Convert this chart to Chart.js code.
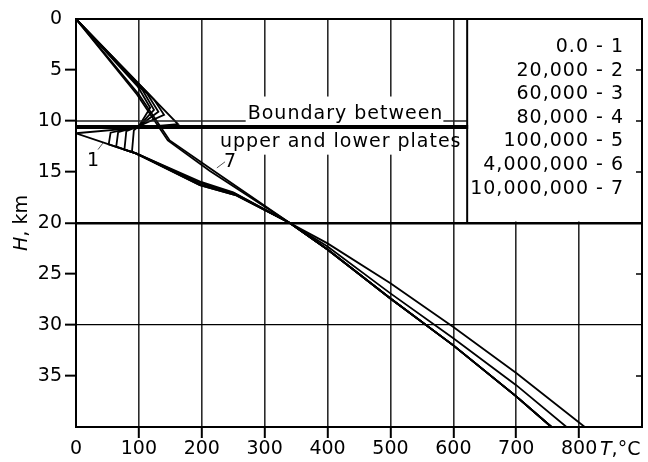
<!DOCTYPE html>
<html>
<head>
<meta charset="utf-8">
<script src="https://cdn.jsdelivr.net/npm/chart.js@4/dist/chart.umd.min.js"></script>
<style>
html,body{margin:0;padding:0;background:#fff;}
#wrap{width:648px;height:462px;}
</style>
</head>
<body>
<div id="wrap"><canvas id="myChart" width="648" height="462"></canvas></div>
<script>
// legend: time (years) - curve number
var legendLabels = ['0.0 - 1','20,000 - 2','60,000 - 3','80,000 - 4','100,000 - 5','4,000,000 - 6','10,000,000 - 7'];
var xTickValues = [0,100,200,300,400,500,600,700,800];
var yTickValues = [0,5,10,15,20,25,30,35];

// T, degC  /  H, km  for each curve
var t1 = [0,162,0,96,197,255,340,400,500,600,700,756];
var h1 = [0,10.3,11.2,13.2,16.3,17.3,20,22.6,27.4,32,37,40];
var t2 = [0,124,140,100,55,52,96,197,255,340,400,500,600,700,756];
var h2 = [0,7.9,9.4,10.5,11.15,12.3,13.2,16.3,17.3,20,22.6,27.4,32,37,40];
var t3 = [0,114,131,100,67,64,96,198,254,340,400,500,600,700,756];
var h3 = [0,7.4,9.1,10.5,11.1,12.5,13.2,16.2,17.2,20,22.6,27.4,32,37,40];
var t4 = [0,106,124,100,80,77,97,199,252,340,400,500,600,700,756];
var h4 = [0,7.0,8.9,10.5,11.0,12.8,13.2,16.1,17.1,20,22.6,27.4,32,37,40];
var t5 = [0,98,118,100,92,89,98,200,250,340,400,500,600,700,756];
var h5 = [0,6.6,8.7,10.5,10.9,13.0,13.25,16.0,17.0,20,22.6,27.4,32,37,40];
var t6 = [0,97,146,213,340,400,500,600,700,780];
var h6 = [0,7.4,11.9,14.9,20,22.3,26.9,31.3,35.9,40];
var t7 = [0,100,149,217,340,400,500,600,700,809];
var h7 = [0,7.4,11.9,14.8,20,22,25.9,30.2,34.7,40];

var boundaryH = 10.6;   // contact of upper and lower plates
var legendBoxT = 622;   // left edge of the legend box

var allT = [t1,t2,t3,t4,t5,t6,t7];
var allH = [h1,h2,h3,h4,h5,h6,h7];

var FONT = '"DejaVu Sans", sans-serif';

function toPoints(ts, hs){
  var pts = [];
  for (var i=0;i<ts.length;i++){
    pts.push({x:ts[i], y:hs[i]});
  }
  return pts;
}

var datasets = [];
for (var i=0;i<allT.length;i++){
  datasets.push({
    label: legendLabels[i],
    data: toPoints(allT[i], allH[i]),
    showLine: true,
    borderColor: '#000',
    borderWidth: 1.8,
    pointRadius: 0,
    fill: false
  });
}

// widths of an italic part and a normal part
function mixedText(ctx, italicPart, rest){
  ctx.font = 'italic 19px ' + FONT;
  var w1 = ctx.measureText(italicPart).width;
  ctx.font = '19px ' + FONT;
  var w2 = ctx.measureText(rest).width;
  return [w1, w2];
}

var extras = {
  id: 'extras',
  beforeDraw: function(chart){
    var ctx = chart.ctx;
    ctx.save();
    ctx.fillStyle = '#fff';
    ctx.fillRect(0,0,chart.width,chart.height);
    ctx.restore();
  },
  beforeDatasetsDraw: function(chart){
    var ctx = chart.ctx, x = chart.scales.x, y = chart.scales.y, a = chart.chartArea;
    ctx.save();
    ctx.fillStyle = '#fff';
    // gap in the grid behind the boundary note
    var x0 = x.getPixelForValue(226), x1 = x.getPixelForValue(595);
    var y0 = y.getPixelForValue(7.6), y1 = y.getPixelForValue(13.3);
    ctx.fillRect(x0, y0, x1-x0, y1-y0);
    // legend box
    var bx = x.getPixelForValue(legendBoxT);
    ctx.fillRect(bx, a.top+1, a.right-bx, y.getPixelForValue(20)-1.5-a.top-1);
    ctx.restore();
  },
  afterDatasetsDraw: function(chart){
    var ctx = chart.ctx, x = chart.scales.x, y = chart.scales.y, a = chart.chartArea;
    var bx = x.getPixelForValue(legendBoxT);
    ctx.save();
    ctx.fillStyle = '#000';
    ctx.strokeStyle = '#000';
    ctx.font = '19px ' + FONT;
    ctx.letterSpacing = '1px';
    ctx.textBaseline = 'middle';
    ctx.textAlign = 'left';

    var txt1 = 'Boundary between';
    var txt2 = 'upper and lower plates';
    var tx1 = x.getPixelForValue(273), ty1 = y.getPixelForValue(9.3);
    var tx2 = x.getPixelForValue(229), ty2 = y.getPixelForValue(12.1);
    var w1 = ctx.measureText(txt1).width;

    // thin line at 10 km, broken by the text
    var g10 = y.getPixelForValue(10);
    ctx.lineWidth = 1.3;
    ctx.strokeStyle = '#222';
    ctx.beginPath();
    ctx.moveTo(a.left, g10); ctx.lineTo(tx1-2, g10);
    ctx.moveTo(tx1+w1, g10); ctx.lineTo(bx, g10);
    ctx.stroke();

    // boundary between plates
    var bY = y.getPixelForValue(boundaryH);
    ctx.strokeStyle = '#000';
    ctx.lineWidth = 4;
    ctx.beginPath();
    ctx.moveTo(a.left, bY); ctx.lineTo(bx+1, bY);
    ctx.stroke();

    // legend box left edge
    ctx.lineWidth = 2;
    ctx.beginPath();
    ctx.moveTo(bx, a.top); ctx.lineTo(bx, y.getPixelForValue(20));
    ctx.stroke();

    ctx.fillText(txt1, tx1, ty1);
    ctx.fillText(txt2, tx2, ty2);

    // legend text
    ctx.textAlign = 'right';
    for (var i=0;i<legendLabels.length;i++){
      ctx.fillText(legendLabels[i], 624, a.top + 28 + i*23.6);
    }

    // curve labels 1 and 7 with leaders
    ctx.letterSpacing = '0px';
    ctx.textAlign = 'center';
    ctx.fillText('1', x.getPixelForValue(27), y.getPixelForValue(13.9));
    ctx.fillText('7', x.getPixelForValue(245), y.getPixelForValue(14.0));
    ctx.lineWidth = 1;
    ctx.strokeStyle = '#555';
    ctx.beginPath();
    ctx.moveTo(x.getPixelForValue(35), y.getPixelForValue(12.8));
    ctx.lineTo(x.getPixelForValue(43), y.getPixelForValue(12.15));
    ctx.moveTo(x.getPixelForValue(224), y.getPixelForValue(14.6));
    ctx.lineTo(x.getPixelForValue(237), y.getPixelForValue(14.0));
    ctx.stroke();
    ctx.restore();
  },
  afterDraw: function(chart){
    var ctx = chart.ctx, x = chart.scales.x, y = chart.scales.y, a = chart.chartArea;
    ctx.save();
    ctx.strokeStyle = '#000';
    ctx.lineWidth = 2;
    ctx.strokeRect(a.left, a.top, a.right-a.left, a.bottom-a.top);
    // small inner ticks on the right side
    var rt = [5,10,15,25,35];
    ctx.lineWidth = 1.5;
    ctx.beginPath();
    for (var i=0;i<rt.length;i++){
      var py = y.getPixelForValue(rt[i]);
      ctx.moveTo(a.right-6, py); ctx.lineTo(a.right, py);
    }
    ctx.stroke();

    ctx.fillStyle = '#000';
    ctx.textBaseline = 'middle';
    ctx.textAlign = 'left';
    // y title, rotated
    var ws = mixedText(ctx, 'H', ', km');
    ctx.translate(22, 223);
    ctx.rotate(-Math.PI/2);
    var sx = -(ws[0]+ws[1])/2;
    ctx.font = 'italic 19px ' + FONT;
    ctx.fillText('H', sx, 0);
    ctx.font = '19px ' + FONT;
    ctx.fillText(', km', sx+ws[0], 0);
    ctx.setTransform(1,0,0,1,0,0);
    // x title
    ctx.font = 'italic 19px ' + FONT;
    ctx.fillText('T', 600, 450);
    var wt = ctx.measureText('T').width;
    ctx.font = '19px ' + FONT;
    ctx.fillText(',\u00B0C', 600+wt, 450);
    ctx.restore();
  }
};

var ctx = document.getElementById('myChart').getContext('2d');
var chart = new Chart(ctx, {
  type: 'scatter',
  data: { datasets: datasets },
  options: {
    responsive: false,
    animation: false,
    devicePixelRatio: 1,
    layout: { padding: {top:19, right:6, left:0, bottom:0} },
    plugins: { legend: {display:false}, tooltip: {enabled:false} },
    scales: {
      x: {
        type: 'linear', min: 0, max: 900,
        afterBuildTicks: function(s){ s.ticks = xTickValues.concat([900]).map(function(v){return {value:v};}); },
        afterFit: function(s){ s.height = 35; },
        ticks: {
          autoSkip: false, maxRotation: 0, padding: 0, color: '#000',
          font: {family: FONT, size: 19},
          callback: function(v){ return v === 900 ? '' : String(v); }
        },
        border: {display:true, color:'#000', width:2},
        grid: {
          tickLength: 11, tickWidth: 2,
          color: function(c){ var v = c.tick && c.tick.value; return (v === 0 || v === 900) ? 'rgba(0,0,0,0)' : '#2a2a2a'; },
          tickColor: function(c){ var v = c.tick && c.tick.value; return (v === 0 || v === 900) ? 'rgba(0,0,0,0)' : '#000'; },
          lineWidth: 1.6
        }
      },
      y: {
        type: 'linear', min: 0, max: 40, reverse: true,
        afterBuildTicks: function(s){ s.ticks = yTickValues.concat([40]).map(function(v){return {value:v};}); },
        afterFit: function(s){ s.width = 76; },
        ticks: {
          autoSkip: false, padding: 3, color: '#000',
          font: {family: FONT, size: 19},
          callback: function(v){ return v === 40 ? '' : String(v); }
        },
        border: {display:true, color:'#000', width:2},
        grid: {
          tickLength: 11, tickWidth: 2,
          color: function(c){ var v = c.tick && c.tick.value; return (v === 20 || v === 30) ? '#000' : 'rgba(0,0,0,0)'; },
          tickColor: function(c){ var v = c.tick && c.tick.value; return (v === 0 || v === 40) ? 'rgba(0,0,0,0)' : '#000'; },
          lineWidth: function(c){ var v = c.tick && c.tick.value; return v === 20 ? 2.5 : 1.3; }
        }
      }
    }
  },
  plugins: [extras]
});
</script>
</body>
</html>
